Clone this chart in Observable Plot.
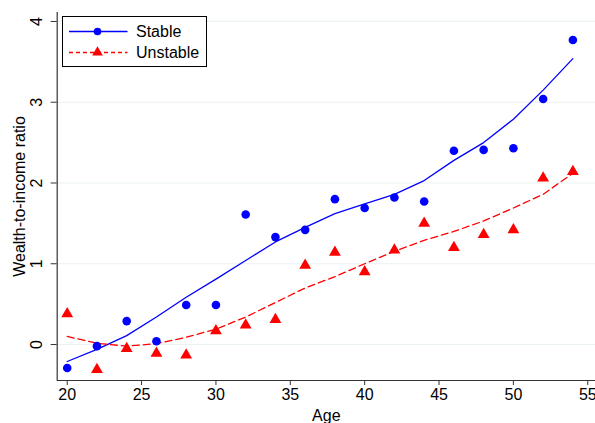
<!DOCTYPE html>
<html><head><meta charset="utf-8">
<script src="https://cdn.jsdelivr.net/npm/d3@7"></script>
<script src="https://cdn.jsdelivr.net/npm/@observablehq/plot@0.6"></script>
<style>
body{margin:0;background:#fff;}
#wrap{position:relative;width:595px;height:423px;font-family:"Liberation Sans",Arial,sans-serif;}
#legend{position:absolute;left:62px;top:16px;}
</style></head>
<body><div id="wrap"></div>
<script>
const ages = [20,22,24,26,28,30,32,34,36,38,40,42,44,46,48,50,52,54];
const stable = [-0.29,-0.02,0.29,0.04,0.49,0.49,1.61,1.33,1.42,1.80,1.69,1.82,1.77,2.40,2.41,2.43,3.04,3.77];
const unstable = [0.38,-0.31,-0.05,-0.11,-0.13,0.17,0.24,0.31,0.98,1.14,0.90,1.17,1.50,1.20,1.36,1.42,2.06,2.14];
const stableFit = [-0.21,-0.06,0.11,0.34,0.585,0.81,1.04,1.27,1.45,1.62,1.74,1.86,2.03,2.28,2.50,2.79,3.15,3.54];
const unstableFit = [0.10,0.015,-0.02,0.01,0.09,0.19,0.34,0.52,0.70,0.84,1.00,1.155,1.29,1.40,1.53,1.69,1.86,2.12];
const xTicks = [20,25,30,35,40,45,50,55];
const yTicks = [0,1,2,3,4];
const seriesNames = ["Stable","Unstable"];

const xDomain = [19.327, 55.52];
const yDomain = [-0.4455, 4.111];
const rows = ages.map((a,i)=>({age:a, s:stable[i], u:unstable[i], sf:stableFit[i], uf:unstableFit[i]}));

const chart = Plot.plot({
  width:595, height:423,
  marginLeft:56.7, marginRight:0, marginTop:12, marginBottom:43,
  style:{fontFamily:"Liberation Sans, Arial, sans-serif", fontSize:"16px", background:"#fff"},
  x:{domain:xDomain},
  y:{domain:yDomain},
  marks:[
    Plot.gridY(yTicks, {stroke:"#eaf2f3", strokeOpacity:1, strokeWidth:1.2}),
    Plot.axisX(xTicks, {tickSize:5, tickPadding:3, fontSize:16, label:null, stroke:"#333", fill:"#000"}),
    Plot.axisY(yTicks, {tickSize:6, tickFormat:()=>"", label:null, stroke:"#333"}),
    Plot.text(yTicks, {y:d=>d, text:d=>String(d), frameAnchor:"left", rotate:-90, dx:-20.7, lineAnchor:"middle", textAnchor:"middle", fontSize:16, fill:"#000"}),
    Plot.text(["Wealth-to-income ratio"], {frameAnchor:"left", rotate:-90, dx:-37.7, lineAnchor:"middle", textAnchor:"middle", fontSize:16, fill:"#000"}),
    Plot.text(["Age"], {frameAnchor:"bottom", dy:35, lineAnchor:"middle", textAnchor:"middle", fontSize:16, fill:"#000"}),
    Plot.ruleX([xDomain[0]], {stroke:"#333", strokeWidth:1.2}),
    Plot.ruleY([yDomain[0]], {stroke:"#333", strokeWidth:1.2}),
    Plot.line(rows, {x:"age", y:"sf", stroke:"#0000ff", strokeWidth:1.3}),
    Plot.line(rows, {x:"age", y:"uf", stroke:"#ff0000", strokeWidth:1.3, strokeDasharray:"7,4"}),
    Plot.dot(rows, {x:"age", y:"s", r:4.3, fill:"#0000ff", stroke:"none"}),
    Plot.dot(rows, {x:"age", y:"u", r:4.4, symbol:"triangle", fill:"#ff0000", stroke:"none"})
  ]
});
const wrap = document.getElementById("wrap");
wrap.appendChild(chart);

// legend
const lg = d3.select(wrap).append("svg").attr("id","legend").attr("width",146).attr("height",52);
lg.append("rect").attr("x",0.5).attr("y",0.5).attr("width",144).attr("height",50).attr("fill","#fff").attr("stroke","#000");
const rowsY = [15.5, 36.5];
lg.append("line").attr("x1",7).attr("x2",65.5).attr("y1",rowsY[0]).attr("y2",rowsY[0]).attr("stroke","#0000ff").attr("stroke-width",1.3);
lg.append("circle").attr("cx",35.5).attr("cy",rowsY[0]).attr("r",3.8).attr("fill","#0000ff");
lg.append("line").attr("x1",7).attr("x2",65.5).attr("y1",rowsY[1]).attr("y2",rowsY[1]).attr("stroke","#ff0000").attr("stroke-width",1.3).attr("stroke-dasharray","4,3");
lg.append("path").attr("transform",`translate(35.5,${rowsY[1]})`).attr("d",d3.symbol(d3.symbolTriangle, 50)()).attr("fill","#ff0000");
seriesNames.forEach((n,i)=>{
  lg.append("text").attr("x",74).attr("y",rowsY[i]+5.6).attr("font-size",16).attr("font-family","Liberation Sans, Arial, sans-serif").attr("fill","#000").text(n);
});
</script></body></html>
